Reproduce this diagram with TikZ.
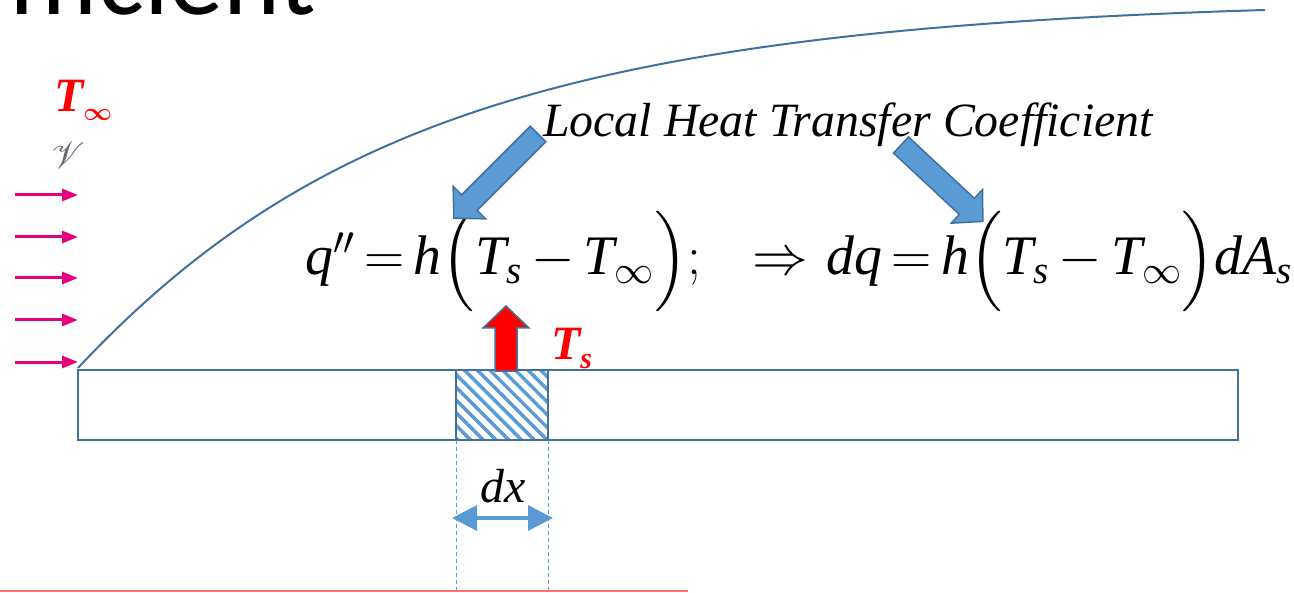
\RequirePackage{fix-cm}
\documentclass[tikz,border=0pt]{standalone}
\usepackage{amsmath, amssymb, bm, mathrsfs, graphicx}
\usepackage{fontspec}
\setmainfont{Liberation Serif}
\newfontfamily\titlefont[Ligatures=NoCommon]{Carlito}
\usepackage{tikz}
\usetikzlibrary{arrows.meta, patterns.meta, calc}

\definecolor{plateblue}{RGB}{65,113,156}
\definecolor{lightblue}{RGB}{91,155,213}
\definecolor{flowpink}{RGB}{230,0,126}
\definecolor{bottomred}{RGB}{255,112,112}
\definecolor{vgray}{RGB}{105,105,115}

\newcommand{\mi}[1]{\textit{#1}}
\newcommand{\tightmath}{\thickmuskip=3mu\relax\medmuskip=3mu\relax}
% block arrow: style, tail x, tail y, angle, length
\newcommand{\blockarrow}[5]{%
  \begin{scope}[shift={(#2,#3)}, rotate=#4]
    \draw[#1] (0,-11) -- (#5-22,-11) -- (#5-22,-23) -- (#5,0)
      -- (#5-22,23) -- (#5-22,11) -- (0,11) -- cycle;
  \end{scope}}

\begin{document}
\begin{tikzpicture}[x=1bp, y=-1bp, >=Triangle,
    plate/.style={draw=plateblue, line width=2bp, outer sep=0pt, inner sep=0pt},
    element/.style={plate, pattern={Lines[angle=-45, distance=9bp, line width=3.5bp]},
      pattern color=lightblue},
    hot/.style={text=red, font=\fontsize{48}{48}\selectfont\bfseries\itshape, inner sep=0pt},
    caption/.style={font=\fontsize{48}{48}\selectfont\itshape, inner sep=0pt},
    formula/.style={font=\fontsize{56}{56}\selectfont\tightmath, inner sep=0pt},
    flow/.style={flowpink, line width=3bp, -{Triangle[length=16bp, width=12bp]}},
    guide/.style={lightblue, line width=1bp, dash pattern=on 4bp off 3bp},
    dim/.style={lightblue, line width=3.5bp, {Triangle[length=25bp, width=25bp]}-{Triangle[length=25bp, width=25bp]}},
    pointer/.style={fill=lightblue, draw=plateblue, line width=1.5bp, line join=miter},
    heatflux/.style={fill=red, draw=plateblue, line width=1.5bp, line join=miter}]
  \useasboundingbox (0,0) rectangle (1294,593);

  % --- slide title, cut off at the top ---
  \node[font=\titlefont\fontsize{109}{109}\selectfont, anchor=base east, inner sep=0pt]
    (title) at (316,15) {fficient};

  % --- free stream ---
  \node[hot, anchor=base west] (tinf) at (54,112)
    {T\raisebox{-9bp}{\fontsize{25}{25}\selectfont$\bm{\infty}$}};
  \node[text=vgray, font=\fontsize{24.88}{25}\selectfont, inner sep=0pt] (vel) at (68,155)
    {\scalebox{1.5}{$\mathscr{V}$}};
  \foreach \y in {195,237,278,320,362}
    \draw[flow] (15,\y) -- (78,\y);

  % --- boundary layer edge ---
  \draw[plateblue, line width=2bp] (78,368) .. controls (320,110) and (600,30) .. (1265,10);

  % --- plate and surface element ---
  \node[plate, minimum width=1160bp, minimum height=70bp] (plate) at (658,405) {};
  \node[element, minimum width=92bp, minimum height=70bp] (elem) at (502,405) {};
  \blockarrow{heatflux}{506}{371}{90}{65}
  \node[hot, anchor=base west] (ts) at (551,360)
    {T\raisebox{-9bp}{\fontsize{30}{30}\selectfont s}};

  % --- element width ---
  \draw[guide] (elem.south west) -- ++(0,153);
  \draw[guide] (elem.south east) -- ++(0,153);
  \coordinate (dxl) at (452,518);
  \coordinate (dxr) at (553,518);
  \draw[dim] (dxl) -- (dxr);
  \node[caption, anchor=base] (dx) at (503,502) {dx};

  % --- rate equations ---
  \node[formula, anchor=base west] (qflux) at (305,275)
    {$\mi{q}''=\mi{h}\Bigl(\mi{T}_{\mi{s}}-\mi{T}_{\infty}\Bigr);$};
  \node[formula, anchor=base west] (dq) at (752,275)
    {$\Rightarrow\;\mi{d}\mi{q}=\mi{h}\Bigl(\mi{T}_{\mi{s}}-\mi{T}_{\infty}\Bigr)\mi{d}\mi{A}_{\mi{s}}$};

  % --- caption and pointers ---
  \node[caption, anchor=base west] (ltc) at (543,137) {Local Heat Transfer Coefficient};
  \blockarrow{pointer}{538}{134}{225}{119}
  \blockarrow{pointer}{901}{145}{-43}{112}

  \draw[bottomred, line width=1.5bp] (0,591) -- (688,591);
\end{tikzpicture}
\end{document}
